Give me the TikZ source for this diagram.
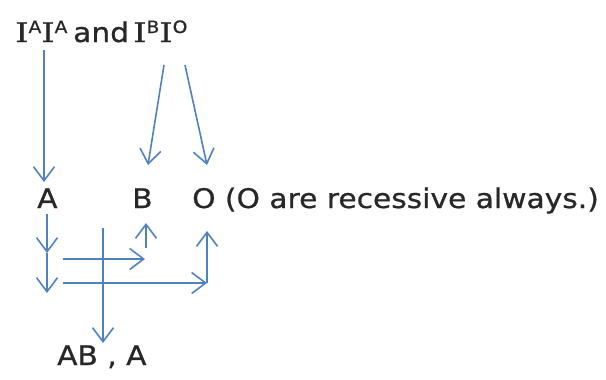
\documentclass[tikz,border=0pt]{standalone}
\usepackage{fontspec}
\setmainfont{DejaVu Sans}[FakeStretch=1.1,FakeBold=0.8]
\newfontfamily\serifI{DejaVu Serif}[FakeStretch=1.25,FakeBold=0.8]
\usetikzlibrary{arrows.meta}
\definecolor{arrowblue}{RGB}{79,129,189}
\definecolor{txtgray}{RGB}{40,40,40}
\newcommand{\gI}{{\serifI I}}
\newcommand{\allele}[1]{\raisebox{9pt}{\fontsize{17}{17}\selectfont #1}}

\begin{document}
\begin{tikzpicture}[x=1pt,y=-1pt,
  lbl/.style={inner sep=0pt, anchor=base west, text=txtgray, font=\fontsize{27}{32}\selectfont},
  gene/.style={-{Straight Barb[length=14pt,width=21pt]}, draw=arrowblue, line width=1.6pt}]
\useasboundingbox (0,0) rectangle (606,380);
% parents
\node[lbl] (gAA) at (15,42) {\gI\allele{A}\gI\allele{A}};
\node[lbl] (and) at (73,42) {and};
\node[lbl] (gBO) at (133,42) {\gI\allele{B}\gI\allele{O}};
% gametes
\node[lbl] (A) at (37,208) {A};
\node[lbl] (B) at (132,208) {B};
\node[lbl] (O) at (192,208) {O (O are recessive always.)};
% offspring
\node[lbl] (kids) at (57,365) {AB , A};
% arrow ends
\coordinate (aa1) at (44,50);   \coordinate (aa2) at (44,182);
\coordinate (bo1) at (164,65);  \coordinate (bo2) at (148,165);
\coordinate (bo3) at (185,65);  \coordinate (bo4) at (207,165);
\coordinate (aTop) at (47,214); \coordinate (aMid) at (47,253); \coordinate (aBot) at (47,293);
\coordinate (toB1) at (63,259); \coordinate (toB2) at (145,259);
\coordinate (toO1) at (63,283); \coordinate (toO2) at (207,283); \coordinate (oUp) at (207,231);
\coordinate (bUp1) at (146,248); \coordinate (bUp2) at (146,223);
\coordinate (cr1) at (103,228); \coordinate (cr2) at (103,343);
\draw[gene] (aa1) -- (aa2);
\draw[gene] (bo1) -- (bo2);
\draw[gene] (bo3) -- (bo4);
\draw[gene] (aTop) -- (aMid);
\draw[gene] (aMid) -- (aBot);
\draw[gene] (toB1) -- (toB2);
\draw[gene] (toO1) -- (toO2);
\draw[gene] (toO2) -- (oUp);
\draw[gene] (bUp1) -- (bUp2);
\draw[gene] (cr1) -- (cr2);
\end{tikzpicture}
\end{document}
